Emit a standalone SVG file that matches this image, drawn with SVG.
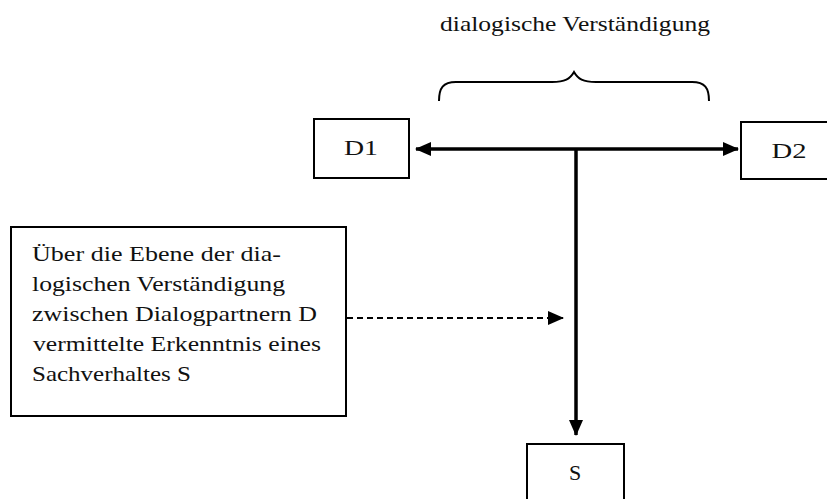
<svg xmlns="http://www.w3.org/2000/svg" width="827" height="499" viewBox="0 0 827 499">
<style>
.box{fill:#fff;stroke:#000;stroke-width:2}
.c{fill:none;stroke:#000}
</style>
<defs>
<marker id="ah" viewBox="0 0 16 14" refX="15" refY="7" markerWidth="16" markerHeight="14" markerUnits="userSpaceOnUse" orient="auto-start-reverse">
<path d="M0,0 L16,7 L0,14 Z" fill="#000"/>
</marker>
</defs>
<g font-family="Liberation Serif, DejaVu Serif, serif" fill="#111">
<g id="title">
<text x="575" y="31" font-size="21" text-anchor="middle" textLength="270" lengthAdjust="spacingAndGlyphs">dialogische Verständigung</text>
</g>
<g id="brace">
<path class="c" stroke-width="2" d="M439,101 C439,88 443,82 456,82 L552,82 C565,82 570,79 574,72 C578,79 583,82 596,82 L692,82 C705,82 709,88 709,101"/>
</g>
<g id="D1">
<rect class="box" x="314" y="119" width="95" height="59"/>
<text x="361" y="155" font-size="22" text-anchor="middle" textLength="34" lengthAdjust="spacingAndGlyphs">D1</text>
</g>
<g id="D2">
<rect class="box" x="741" y="122" width="96" height="57"/>
<text x="789" y="158" font-size="22" text-anchor="middle" textLength="35" lengthAdjust="spacingAndGlyphs">D2</text>
</g>
<g id="S">
<rect class="box" x="527" y="444" width="97" height="70"/>
<text x="575" y="480" font-size="22" text-anchor="middle">S</text>
</g>
<g id="note" font-size="22">
<rect class="box" x="11" y="227" width="335" height="189"/>
<text x="32" y="261" textLength="249" lengthAdjust="spacingAndGlyphs">Über die Ebene der dia-</text>
<text x="32" y="291" textLength="253" lengthAdjust="spacingAndGlyphs">logischen Verständigung</text>
<text x="32" y="321" textLength="285" lengthAdjust="spacingAndGlyphs">zwischen Dialogpartnern D</text>
<text x="33" y="351" textLength="288" lengthAdjust="spacingAndGlyphs">vermittelte Erkenntnis eines</text>
<text x="32" y="381" textLength="159" lengthAdjust="spacingAndGlyphs">Sachverhaltes S</text>
</g>
</g>
<g id="connectors">
<line class="c" stroke-width="3.5" x1="416" y1="149" x2="738" y2="149" marker-start="url(#ah)" marker-end="url(#ah)"/>
<line class="c" stroke-width="3.5" x1="576" y1="149" x2="576" y2="435" marker-end="url(#ah)"/>
<line class="c" stroke-width="1.8" stroke-dasharray="6,4" x1="347" y1="318" x2="563" y2="318" marker-end="url(#ah)"/>
</g>
</svg>
